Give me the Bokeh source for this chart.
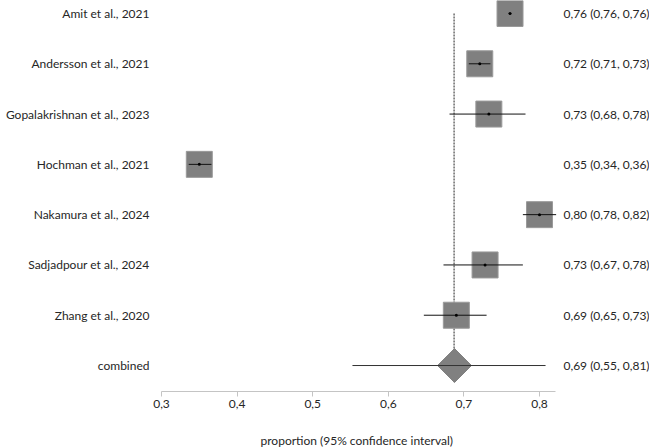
from bokeh.plotting import figure
from bokeh.models import Range1d, FixedTicker, ColumnDataSource, Title, LinearAxis
from bokeh.core.properties import value
from bokeh.embed import file_html
from bokeh.resources import INLINE
import numpy as np

studies = ["Amit et al., 2021", "Andersson et al., 2021", "Gopalakrishnan et al., 2023",
           "Hochman et al., 2021", "Nakamura et al., 2024", "Sadjadpour et al., 2024",
           "Zhang et al., 2020"]
est = [0.761, 0.721, 0.733, 0.350, 0.800, 0.728, 0.690]
lo = [0.759, 0.7065, 0.681, 0.336, 0.778, 0.673, 0.647]
hi = [0.763, 0.735, 0.7815, 0.366, 0.822, 0.778, 0.730]
est_labels = ["0,76 (0,76, 0,76)", "0,72 (0,71, 0,73)", "0,73 (0,68, 0,78)",
              "0,35 (0,34, 0,36)", "0,80 (0,78, 0,82)", "0,73 (0,67, 0,78)",
              "0,69 (0,65, 0,73)"]
comb_label = "combined"
comb_est = 0.6876
comb_lo = 0.5526
comb_hi = 0.808
comb_text = "0,69 (0,55, 0,81)"
ref_line = 0.687
ticks = [0.3, 0.4, 0.5, 0.6, 0.7, 0.8]
tick_labels = ["0,3", "0,4", "0,5", "0,6", "0,7", "0,8"]
axis_title = "proportion (95% confidence interval)"

FONT = "Lato"
FS = "12px"
TXT = "#262626"

rows = list(range(len(studies)))
comb_row = len(studies)

p = figure(width=649, height=448, output_backend="svg", toolbar_location=None,
           x_range=Range1d(0.08704, 0.94550), y_range=Range1d(7.5166, -0.2585),
           y_axis_location=None, min_border_left=0, min_border_right=0,
           min_border_top=0, min_border_bottom=57)
p.outline_line_color = None
p.xgrid.visible = False
p.ygrid.visible = False
p.background_fill_color = "white"
p.border_fill_color = "white"

# reference line
p.segment(x0=[ref_line], y0=[0], x1=[ref_line], y1=[comb_row + 0.34],
          line_color="#222222", line_width=1, line_dash="2 1")

src = ColumnDataSource(dict(y=rows, est=est, lo=lo, hi=hi, name=studies, lab=est_labels))
p.scatter(x="est", y="y", source=src, marker="square", size=26,
          fill_color="#808080", line_color="#9a9a9a", line_width=1)
p.segment(x0="lo", y0="y", x1="hi", y1="y", source=src, line_color="#111111", line_width=1)
p.scatter(x="est", y="y", source=src, marker="circle", size=3,
          fill_color="black", line_color=None)

# combined
p.scatter(x=[comb_est], y=[comb_row], marker="square", angle=np.pi / 4, size=24,
          fill_color="#808080", line_color="#808080")
p.segment(x0=[comb_lo], y0=[comb_row], x1=[comb_hi], y1=[comb_row],
          line_color="#333333", line_width=1)

# labels
left_x = 0.2841
right_x = 0.8317
p.text(x=[left_x] * (len(studies) + 1), y=rows + [comb_row], text=studies + [comb_label],
       text_align="right", text_baseline="middle", text_font=value(FONT),
       text_font_size=FS, text_color=TXT)
p.text(x=[right_x] * (len(studies) + 1), y=rows + [comb_row], text=est_labels + [comb_text],
       text_align="left", text_baseline="middle", text_font=value(FONT),
       text_font_size=FS, text_color=TXT)

ax = p.xaxis[0]
ax.ticker = FixedTicker(ticks=ticks)
ax.major_label_overrides = {t: l for t, l in zip(ticks, tick_labels)}
ax.bounds = (0.3, 0.821)
ax.axis_line_color = "#c4c4c4"
ax.major_tick_line_color = "#c4c4c4"
ax.major_tick_in = 0
ax.major_tick_out = 5
ax.minor_tick_line_color = None
ax.major_label_standoff = 3
ax.major_label_text_font = FONT
ax.major_label_text_font_size = FS
ax.major_label_text_color = TXT

# invisible spacer axis (white tick, no labels) to push the axis title down
spacer = LinearAxis(ticker=FixedTicker(ticks=[0.2]), axis_line_color=None,
                    major_tick_line_color="white", minor_tick_line_color=None,
                    major_tick_in=0, major_tick_out=20, major_label_standoff=0,
                    major_label_text_color=None, major_label_text_font_size="1px")
p.add_layout(spacer, "below")

t = Title(text=axis_title, align="left", offset=260, standoff=0,
          text_font=FONT, text_font_size=FS, text_font_style="normal", text_color=TXT)
p.add_layout(t, "below")

open("out.html", "w").write(file_html(p, INLINE))
